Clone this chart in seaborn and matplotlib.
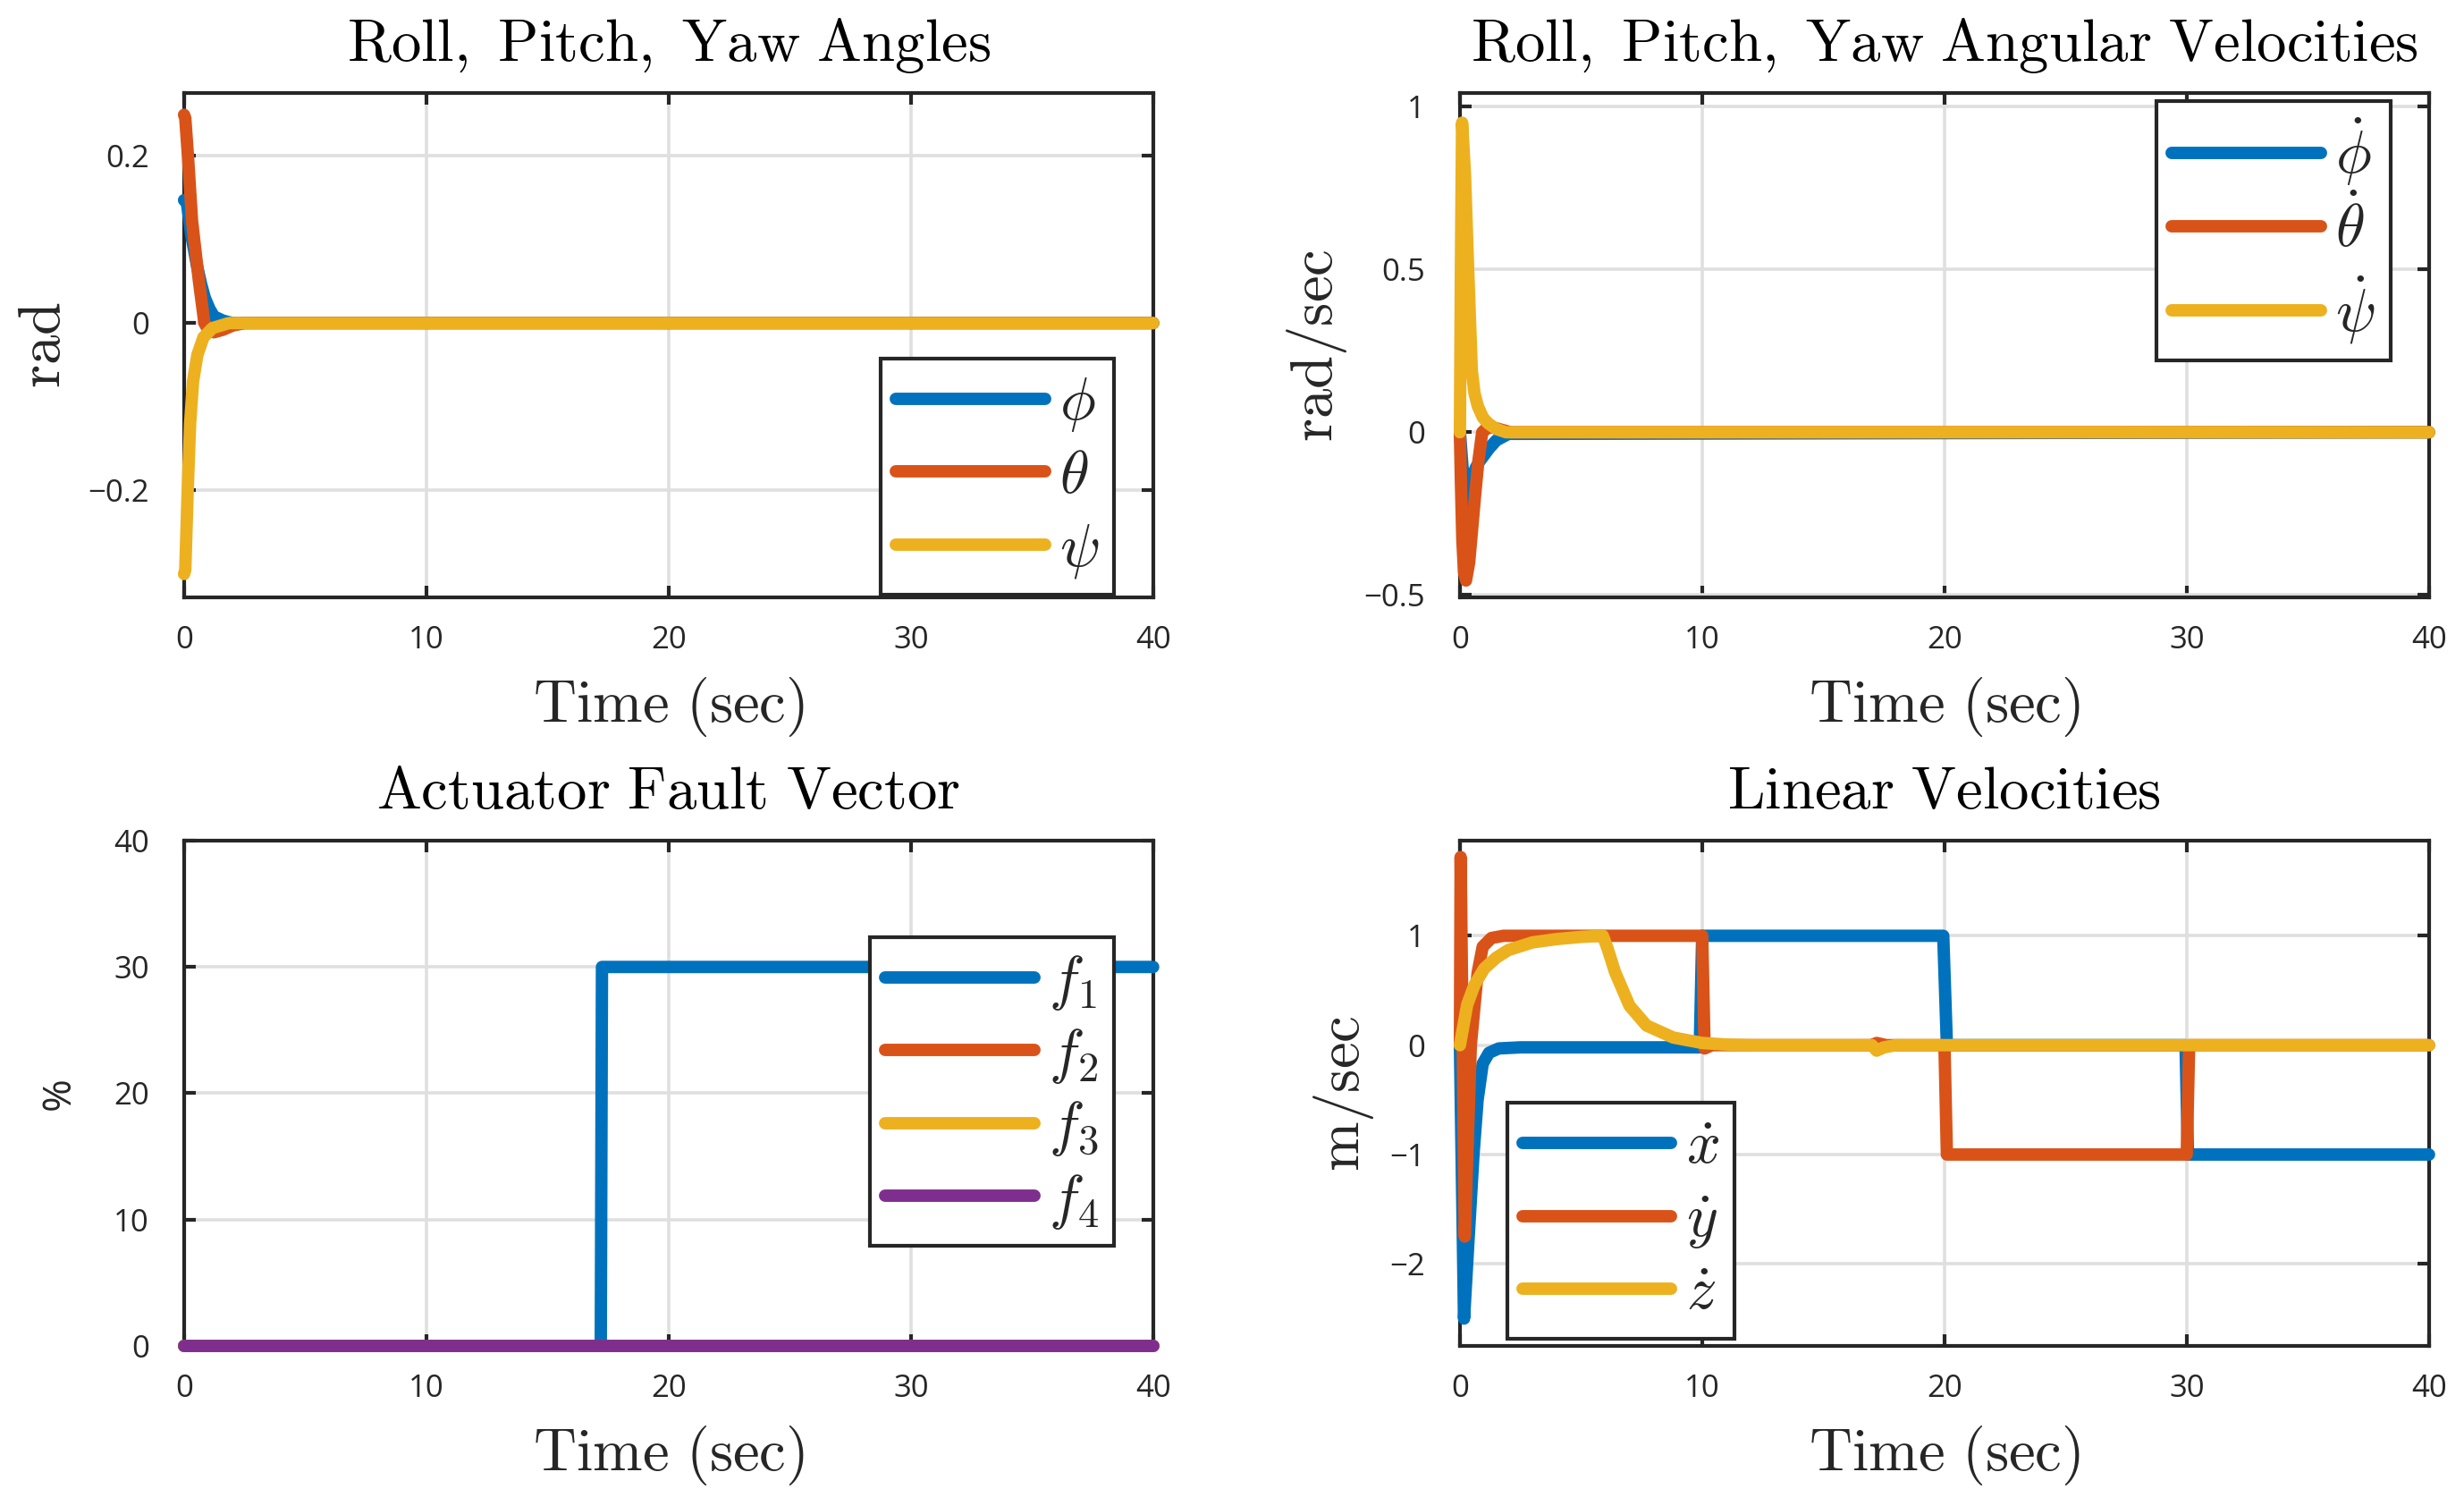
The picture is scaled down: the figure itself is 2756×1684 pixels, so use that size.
import numpy as np
import pandas as pd
import matplotlib
matplotlib.use('Agg')
import matplotlib.pyplot as plt
import seaborn as sns

# ---- data ----
t_phi = [0, 0.1, 0.3, 0.53, 0.7, 0.86, 1.05, 1.23, 1.6, 2.0, 40]
phi = [0.147, 0.147, 0.105, 0.069, 0.047, 0.03, 0.017, 0.008, 0.003, 0, 0]
t_theta = [0, 0.05, 0.16, 0.33, 0.61, 0.84, 1.0, 1.23, 1.6, 2.0, 2.5, 40]
theta = [0.249, 0.245, 0.2, 0.122, 0.051, 0.0, -0.008, -0.011, -0.008, -0.003, 0, 0]
t_psi = [0, 0.05, 0.15, 0.25, 0.37, 0.55, 0.8, 1.17, 1.85, 40]
psi = [-0.3, -0.295, -0.2, -0.12, -0.07, -0.038, -0.017, -0.006, 0, 0]

t_phidot = [0, 0.1, 0.2, 0.31, 0.4, 0.5, 0.65, 0.8, 1.0, 1.2, 1.5, 2.0, 40]
phidot = [0, -0.1, -0.18, -0.232, -0.18, -0.14, -0.11, -0.09, -0.07, -0.05, -0.025, -0.005, 0]
t_thetadot = [0, 0.04, 0.1, 0.17, 0.25, 0.38, 0.5, 0.63, 0.76, 0.92, 1.1, 1.35, 1.7, 2.1, 40]
thetadot = [0, -0.15, -0.33, -0.43, -0.455, -0.4, -0.3, -0.19, -0.09, 0.0, 0.012, 0.015, 0.008, 0.0, 0]
t_psidot = [0, 0.04, 0.09, 0.21, 0.34, 0.49, 0.6, 0.74, 0.95, 1.17, 1.5, 1.9, 40]
psidot = [0, 0.5, 0.95, 0.79, 0.5, 0.19, 0.12, 0.08, 0.045, 0.027, 0.01, 0.0, 0]

t_f1 = [0, 17.2, 17.25, 40]
f1 = [0, 0, 30, 30]
t_f0 = [0, 40]
f2 = [0, 0]
f3 = [0, 0]
f4 = [0, 0]

t_xdot = [0, 0.17, 0.35, 0.56, 0.73, 0.94, 1.2, 1.6, 2.5, 9.9, 10.0, 19.95, 20.1, 29.95, 30.05, 40]
xdot = [0, -2.5, -1.8, -1.0, -0.5, -0.17, -0.07, -0.03, -0.02, -0.02, 1.0, 1.0, 0.0, 0.0, -1.0, -1.0]
t_ydot = [0, 0.03, 0.2, 0.45, 0.73, 0.94, 1.3, 1.8, 10.0, 10.1, 10.4, 17.0, 17.2, 17.6, 20.0, 20.1, 30.0, 30.1, 40]
ydot = [0, 1.72, -1.75, 0.0, 0.66, 0.9, 0.98, 1.0, 1.0, -0.03, 0.0, 0.0, 0.02, 0.0, 0.0, -1.0, -1.0, 0.0, 0.0]
t_zdot = [0, 0.3, 0.6, 1.0, 1.5, 2.0, 3.0, 4.0, 5.0, 5.9, 6.1, 6.4, 7.0, 7.7, 8.8, 10.0, 11.0, 12.0,
          17.0, 17.2, 17.5, 18, 40]
zdot = [0, 0.37, 0.55, 0.7, 0.8, 0.87, 0.94, 0.97, 0.99, 1.0, 0.88, 0.67, 0.36, 0.18, 0.07, 0.02, 0.006, 0.0,
        0, -0.05, -0.02, 0, 0]

x_ticks = [0, 10, 20, 30, 40]
ang_ticks = [-0.2, 0, 0.2]
angvel_ticks = [-0.5, 0, 0.5, 1]
fault_ticks = [0, 10, 20, 30, 40]
linvel_ticks = [-2, -1, 0, 1]

colors = ['#0072BD', '#D95319', '#EDB120', '#7E2F8E']

sns.set_theme(style="whitegrid")
plt.rcParams['font.family'] = ['Open Sans', 'DejaVu Sans']
plt.rcParams['mathtext.fontset'] = 'cm'
plt.rcParams['axes.unicode_minus'] = True

BIG = 24
LW = 5.0


def frame(parts):
    return pd.concat([pd.DataFrame({'t': t, 'v': v, 's': name}) for name, t, v in parts],
                     ignore_index=True)


def panel(ax, parts, title, ylabel, yticks, ylim, leg_loc, leg_anchor, ylabel_size=BIG, ylabelpad=10):
    df = frame(parts)
    names = [p[0] for p in parts]
    sns.lineplot(data=df, x='t', y='v', hue='s', hue_order=names,
                 palette=colors[:len(names)], estimator=None, sort=False,
                 linewidth=LW, legend=False, clip_on=False, zorder=3, ax=ax)
    ax.set_xlim(0, 40)
    ax.set_ylim(*ylim)
    ax.set_xticks(x_ticks)
    ax.set_xticklabels([f'{v:g}' for v in x_ticks])
    ax.set_yticks(yticks)
    ax.set_yticklabels([f'{v:g}'.replace('-', '\u2212') for v in yticks])
    ax.grid(True, color='#dfdfdf', linewidth=1.3)
    ax.set_axisbelow(True)
    for s in ax.spines.values():
        s.set_visible(True)
        s.set_color('#262626')
        s.set_linewidth(1.5)
    ax.tick_params(which='both', direction='in', top=True, right=True, bottom=True, left=True,
                   length=4.7, width=1.5, color='#262626', labelsize=12.5,
                   labelcolor='#262626')
    ax.tick_params(axis='x', pad=11)
    ax.tick_params(axis='y', pad=14)
    ax.set_title(title, fontsize=BIG, pad=13, color='black')
    ax.set_xlabel(r'$\mathrm{Time\ (sec)}$', fontsize=BIG, labelpad=8, color='#262626')
    ax.set_ylabel(ylabel, fontsize=ylabel_size, labelpad=ylabelpad, color='#262626')
    leg = ax.legend(ax.get_lines()[:len(names)], names, loc=leg_loc, bbox_to_anchor=leg_anchor,
                    fontsize=BIG, handlelength=2.5, handletextpad=0.25, borderpad=0.25,
                    labelspacing=0.21, borderaxespad=0, fancybox=False, framealpha=1)
    leg.get_frame().set_edgecolor('#262626')
    leg.get_frame().set_linewidth(1.5)
    for line in leg.get_lines():
        line.set_linewidth(LW)


fig = plt.figure(figsize=(13.78, 8.42), dpi=200)
ax1 = fig.add_axes([0.0747, 0.6033, 0.3933, 0.3349])
ax2 = fig.add_axes([0.5925, 0.6033, 0.3933, 0.3349])
ax3 = fig.add_axes([0.0747, 0.1063, 0.3933, 0.3355])
ax4 = fig.add_axes([0.5925, 0.1063, 0.3933, 0.3355])

panel(ax1, [(r'$\phi$', t_phi, phi), (r'$\theta$', t_theta, theta), (r'$\psi$', t_psi, psi)],
      r'$\mathrm{Roll,\ Pitch,\ Yaw\ Angles}$', r'$\mathrm{rad}$', ang_ticks,
      (-0.328, 0.275), 'lower right', (0.96, 0.005), ylabelpad=5.7)
panel(ax2, [(r'$\dot{\phi}$', t_phidot, phidot), (r'$\dot{\theta}$', t_thetadot, thetadot),
            (r'$\dot{\psi}$', t_psidot, psidot)],
      r'$\mathrm{Roll,\ Pitch,\ Yaw\ Angular\ Velocities}$', r'$\mathrm{rad/sec}$', angvel_ticks,
      (-0.507, 1.041), 'upper right', (0.96, 0.984), ylabelpad=6)
panel(ax3, [(r'$f_1$', t_f1, f1), (r'$f_2$', t_f0, f2), (r'$f_3$', t_f0, f3), (r'$f_4$', t_f0, f4)],
      r'$\mathrm{Actuator\ Fault\ Vector}$', '%', fault_ticks,
      (0, 40), 'center right', (0.96, 0.503), ylabel_size=16, ylabelpad=13.7)
panel(ax4, [(r'$\dot{x}$', t_xdot, xdot), (r'$\dot{y}$', t_ydot, ydot), (r'$\dot{z}$', t_zdot, zdot)],
      r'$\mathrm{Linear\ Velocities}$', r'$\mathrm{m/sec}$', linvel_ticks,
      (-2.75, 1.87), 'lower left', (0.049, 0.014), ylabelpad=5.5)

fig.savefig('out.png', dpi=200, facecolor='white')
plt.close(fig)
